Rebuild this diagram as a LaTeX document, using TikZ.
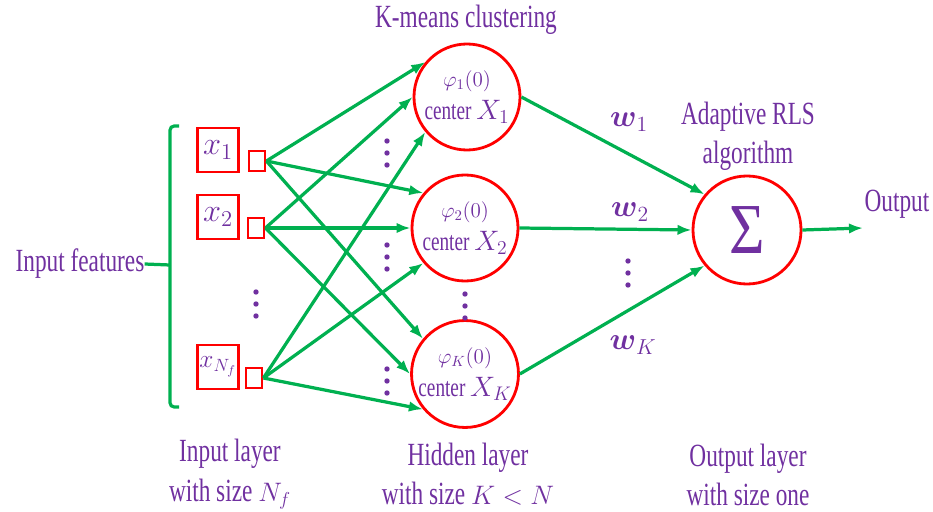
\RequirePackage{fix-cm}
\documentclass[tikz,border=0pt]{standalone}
\usepackage{amsmath}
\usepackage{fontspec}
\setmainfont{Liberation Serif}[FakeStretch=0.72]
\newfontfamily\sumfont{Liberation Serif}
\usetikzlibrary{arrows.meta}

\definecolor{txtpurple}{HTML}{7030A0}
\definecolor{linkgreen}{HTML}{00B050}
\definecolor{unitred}{HTML}{FF0000}

\newcommand{\lblfont}{\fontsize{23}{28}\selectfont}
\newcommand{\mathsz}[1]{{\fontsize{19}{19}\selectfont$#1$}}
\newcommand{\centertext}[1]{{\fontsize{15}{18}\selectfont$\varphi_{#1}(0)$}\\[5pt]%
  {\fontsize{19}{24}\selectfont center {\fontsize{20}{20}\selectfont$X_{#1}$}}}

\tikzset{
  every node/.style={text=txtpurple},
  lbl/.style={font=\lblfont, align=center, inner sep=0pt},
  feature/.style={draw=unitred, line width=2pt, minimum width=1.02cm, minimum height=1.1cm,
    inner sep=0pt, font=\fontsize{23}{23}\selectfont},
  port/.style={draw=unitred, line width=2pt, minimum width=0.4cm, minimum height=0.5cm, inner sep=0pt},
  hidden/.style={circle, draw=unitred, line width=2pt, minimum size=2.65cm, inner sep=0pt, align=center},
  weight/.style={inner sep=0pt, font=\fontsize{22}{22}\selectfont},
  link/.style={draw=linkgreen, line width=2.3pt, -{Latex[length=10pt,width=7.5pt]}},
  vdots/.pic={\foreach \k in {-1,0,1} \fill[txtpurple] (0,\k*12) circle[radius=1.9pt];},
}

\begin{document}
\begin{tikzpicture}[x=0.025cm, y=-0.025cm]
  \useasboundingbox (0,0) rectangle (933,512);

  % input layer
  \node[lbl] (feat) at (80,264) {Input features};
  \coordinate (bmid) at (170,265);
  \draw[linkgreen, line width=2.3pt, rounded corners=3pt] (179,126) -- (170,126) -- (170,407) -- (179,407);
  \draw[linkgreen, line width=2.3pt] (feat.east) -- (bmid);

  \node[feature] (x1) at (218,150) {$x_1$};
  \node[feature] (x2) at (218,217) {$x_2$};
  \node[feature, font=\fontsize{18}{18}\selectfont] (xN) at (218,367) {$x_{N_f}$};
  \node[port] (s1) at (257,161) {};
  \node[port] (s2) at (256,228) {};
  \node[port] (sN) at (254,378) {};
  \pic (din) at (256,304) {vdots};

  % hidden layer
  \node[lbl] (kmeans) at (466,20) {K-means clustering};
  \node[hidden] (h1) at (467,97) {\centertext{1}};
  \node[hidden] (h2) at (465,228) {\centertext{2}};
  \node[hidden] (hK) at (465,374) {\centertext{K}};
  \pic (dhid) at (465,306) {vdots};
  \pic (dl1) at (387,153) {vdots};
  \pic (dl2) at (387,257) {vdots};
  \pic (dl3) at (387,381) {vdots};

  % output layer
  \node[lbl] (rls) at (748,136) {Adaptive RLS\\algorithm};
  \node[hidden, minimum size=2.7cm] (sum) at (747,230)
    {\sumfont\fontsize{51}{51}\selectfont\scalebox{0.85}[1]{Σ}};
  \node[lbl] (outlbl) at (897,204) {Output};
  \coordinate (out) at (863,228);

  \node[weight] (w1) at (629,122) {$\boldsymbol{w}_1$};
  \node[weight] (w2) at (630,212) {$\boldsymbol{w}_2$};
  \node[weight] (wK) at (633,345) {$\boldsymbol{w}_K$};
  \pic (dw) at (628,273) {vdots};

  \foreach \h in {h1,h2,hK} {
    \draw[link] (s1.east) -- (\h.140);
    \draw[link] (s2.east) -- (\h.west);
    \draw[link] (sN.east) -- (\h.220);
  }
  \draw[link] (h1.east) -- (sum.140);
  \draw[link] (h2.east) -- (sum.west);
  \draw[link] (hK.east) -- (sum.220);
  \draw[link] (sum.east) -- (out);

  % layer captions
  \node[lbl] (inlayer) at (230,474) {Input layer\\with size \mathsz{N_f}};
  \node[lbl] (hidlayer) at (468,474) {Hidden layer\\with size \mathsz{K<N}};
  \node[lbl] (outlayer) at (748,475) {Output layer\\with size one};
\end{tikzpicture}
\end{document}
